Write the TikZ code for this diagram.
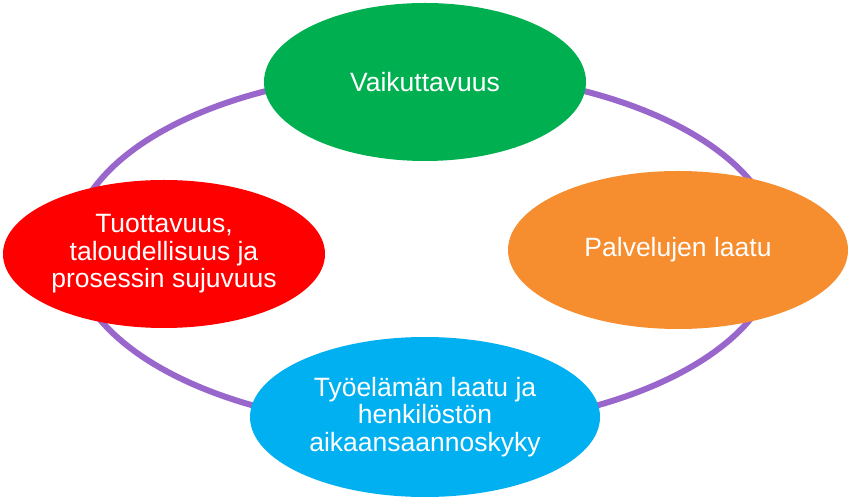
\documentclass[tikz,border=0pt]{standalone}
\usepackage{fontspec}
\setmainfont{Liberation Sans}
\usepackage{tikz}
\usepackage{xcolor}
\usetikzlibrary{shapes.geometric}

\definecolor{ringpurple}{HTML}{9966CC}
\definecolor{effgreen}{HTML}{00B050}
\definecolor{qualorange}{HTML}{F68D2E}
\definecolor{prodred}{HTML}{FF0000}
\definecolor{workblue}{HTML}{00B0F0}

\tikzset{
  goal/.style={ellipse, inner sep=0pt, align=center, text=white,
    font=\fontsize{26.5}{27.5}\selectfont},
  ring/.style={draw=ringpurple, line width=6pt}
}

\begin{document}
\begin{tikzpicture}[x=1pt, y=1pt]
\useasboundingbox (0,0) rectangle (850,500);

% Purple ring behind the four areas
\coordinate (centre) at (425,250);
\draw[ring] (centre) ellipse [x radius=353, y radius=178];

\node[goal, fill=effgreen, minimum width=322, minimum height=158] (impact) at (425,418) {Vaikuttavuus};
\node[goal, fill=qualorange, minimum width=340, minimum height=158] (service) at (678,250) {Palvelujen laatu};
\node[goal, fill=prodred, minimum width=322, minimum height=148] (productivity) at (164,246) {Tuottavuus,\\taloudellisuus ja\\prosessin sujuvuus};
\node[goal, fill=workblue, minimum width=350, minimum height=160] (worklife) at (425,83) {Työelämän laatu ja\\henkilöstön\\aikaansaannoskyky};
\end{tikzpicture}
\end{document}
